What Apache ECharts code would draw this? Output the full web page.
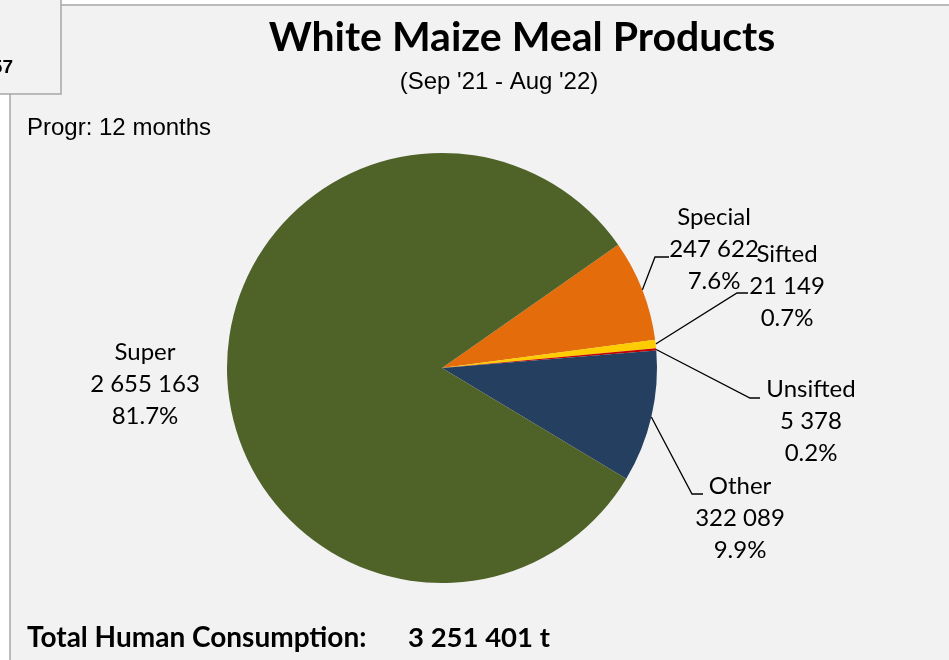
<!DOCTYPE html>
<html>
<head>
<meta charset="utf-8">
<script src="https://cdn.jsdelivr.net/npm/echarts@6/dist/echarts.min.js"></script>
<style>
  html, body { margin: 0; padding: 0; background: #ffffff; }
  #myEchart { width: 949px; height: 660px; }
</style>
</head>
<body>
<div id="myEchart"></div>
<script>
// data
var products = ['Special', 'Sifted', 'Unsifted', 'Other', 'Super'];
var tonnes = [247622, 21149, 5378, 322089, 2655163];
var colours = ['#e46c0a', '#ffcc00', '#c00000', '#243f60', '#4f6228'];
var totalTonnes = '3 251 401 t';

// where each label block sits (centre x, centre y)
var labelSpots = [[714, 249], [787, 286], [811, 421], [740, 518], [145, 384]];
// elbow of the leader lines (bend point, end point), Excel style
var elbows = [
    [[655, 257], [669, 257]],
    [[737, 293], [748, 293]],
    [[750, 398], [760, 398]],
    [[692, 494], [703, 494]],
    null
];

var total = 0;
for (var k = 0; k < tonnes.length; k++) total += tonnes[k];

function spaced(n) {
    return String(n).replace(/\B(?=(\d{3})+(?!\d))/g, ' ');
}

var pieData = [];
for (var i = 0; i < products.length; i++) {
    pieData.push({
        name: products[i],
        value: tonnes[i],
        itemStyle: { color: colours[i] },
        labelLine: { show: products[i] !== 'Super' }
    });
}

var myChart = echarts.init(document.getElementById('myEchart'));
myChart.setOption({
    backgroundColor: '#ffffff',
    animation: false,
    title: [{
        text: 'White Maize Meal Products',
        left: 517,
        top: 12,
        textAlign: 'center',
        textStyle: { fontFamily: 'Lato', fontWeight: 'bold', fontSize: 41, color: '#000' }
    }, {
        text: "(Sep '21 - Aug '22)",
        left: 494,
        top: 65,
        textAlign: 'center',
        textStyle: { fontFamily: 'Liberation Sans', fontWeight: 'normal', fontSize: 24, color: '#000' }
    }],
    graphic: [
        { type: 'rect', z: -10, shape: { x: 10, y: 5, width: 960, height: 700 },
          style: { fill: '#f2f2f2', stroke: '#a6a6a6', lineWidth: 1.5 } },
        { type: 'rect', z: -9, shape: { x: -5, y: -5, width: 66, height: 99 },
          style: { fill: '#f2f2f2', stroke: '#a6a6a6', lineWidth: 1.5 } },
        { type: 'text', z: -8, style: { x: 13, y: 68, text: '57', align: 'right', verticalAlign: 'middle',
          font: 'bold 19px "Liberation Sans"', fill: '#000' } },
        { type: 'text', style: { x: 27, y: 128, text: 'Progr: 12 months', verticalAlign: 'middle',
          font: '24px "Liberation Sans"', fill: '#000' } },
        { type: 'text', style: { x: 27, y: 638, text: 'Total Human Consumption:', verticalAlign: 'middle',
          font: 'bold 28px Lato', fill: '#000' } },
        { type: 'text', style: { x: 408, y: 638, text: totalTonnes, verticalAlign: 'middle',
          font: 'bold 27.5px Lato', fill: '#000' } }
    ],
    series: [{
        type: 'pie',
        center: [442, 368],
        radius: 215,
        startAngle: 35,
        clockwise: true,
        data: pieData,
        label: {
            show: true,
            position: 'outside',
            fontFamily: 'Lato',
            fontSize: 24,
            lineHeight: 32,
            color: '#000',
            align: 'center',
            formatter: function(p) {
                var pct = (p.value / total * 100).toFixed(1);
                return p.name + '\n' + spaced(p.value) + '\n' + pct + '%';
            }
        },
        labelLine: {
            length: 15,
            length2: 10,
            lineStyle: { color: '#000', width: 1.3 }
        },
        labelLayout: function(params) {
            var spot = labelSpots[params.dataIndex];
            var out = { x: spot[0], y: spot[1], align: 'center', verticalAlign: 'middle' };
            var elbow = elbows[params.dataIndex];
            if (elbow && params.labelLinePoints) {
                out.labelLinePoints = [params.labelLinePoints[0], elbow[0], elbow[1]];
            }
            return out;
        }
    }]
});
</script>
</body>
</html>
